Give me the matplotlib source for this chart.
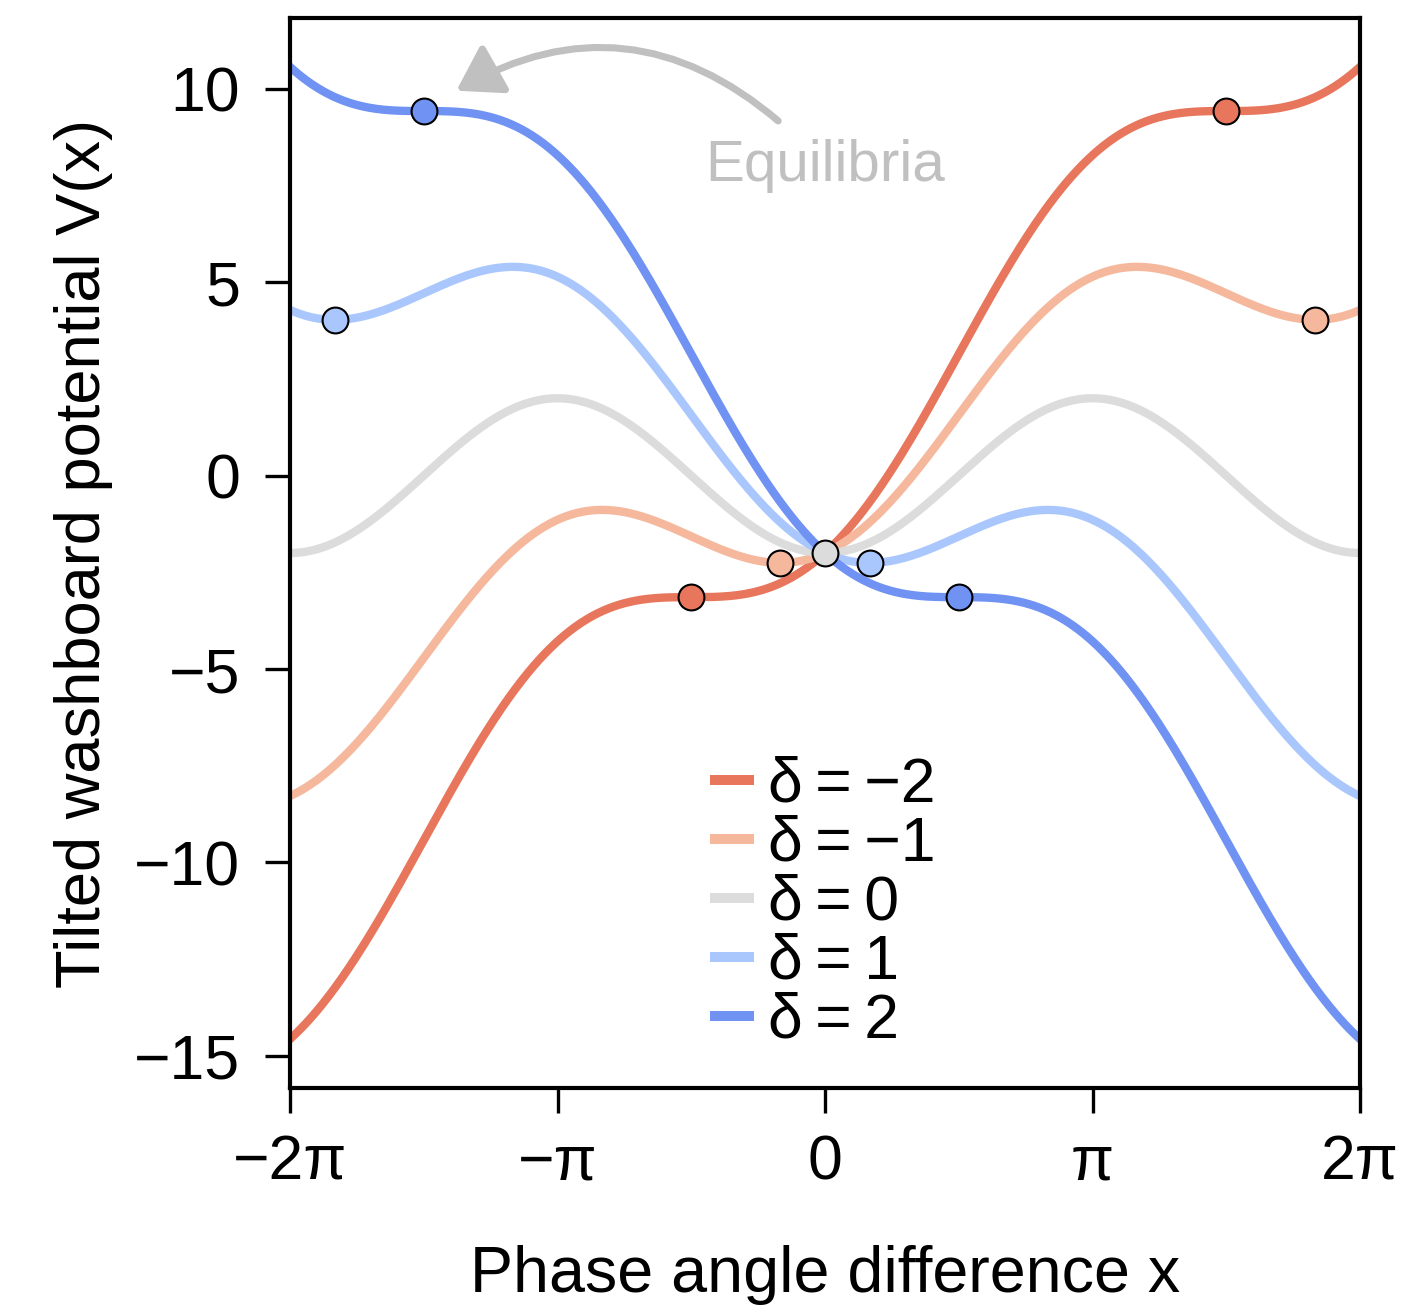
import numpy as np
import matplotlib
matplotlib.use("Agg")
import matplotlib.pyplot as plt

plt.rcParams['font.family'] = ['Liberation Sans', 'DejaVu Sans']
plt.rcParams['axes.unicode_minus'] = True

# ---- data ----
deltas = [-2, -1, 0, 1, 2]
labels = ["δ\u2009=\u2009−2", "δ\u2009=\u2009−1", "δ\u2009=\u20090", "δ\u2009=\u20091", "δ\u2009=\u20092"]
colors = ["#E8765C", "#F5B89D", "#DCDCDC", "#AAC7FD", "#6F92F3"]
amplitude = 2.0  # V(x) = -amplitude*cos(x) - delta*x
# stable equilibria x positions (per delta), in units of pi
eq_x_over_pi = [[-0.5, 1.5], [-1/6, 11/6], [0.0], [1/6, -11/6], [0.5, -1.5]]
xtick_vals = [-2, -1, 0, 1, 2]
xtick_labels = ["−2π", "−π", "0", "π", "2π"]
ytick_vals = [-15, -10, -5, 0, 5, 10]

fig = plt.figure(figsize=(1419/300, 1312/300), dpi=300)
ax = fig.add_axes([290/1419, 1-1088/1312, 1070/1419, 1070/1312])

x = np.linspace(-2*np.pi, 2*np.pi, 800)
for d, lab, c in zip(deltas, labels, colors):
    ax.plot(x, -amplitude*np.cos(x) - d*x, color=c, lw=2.0, label=lab, zorder=2)

for d, c, eqs in zip(deltas, colors, eq_x_over_pi):
    ex = np.array(eqs)*np.pi
    ax.plot(ex, -amplitude*np.cos(ex) - d*ex, 'o', ms=6.2, mfc=c, mec='black',
            mew=0.5, zorder=4, ls='none')

ax.set_xlim(-2*np.pi, 2*np.pi)
ax.set_ylim(-15.83, 11.83)
ax.set_xticks([v*np.pi for v in xtick_vals])
ax.set_xticklabels(xtick_labels)
ax.set_yticks(ytick_vals)
ax.set_yticklabels([("−" + str(-v)) if v < 0 else str(v) for v in ytick_vals])
ax.tick_params(labelsize=15, length=6, width=0.8)
ax.tick_params(axis='x', pad=5)
ax.tick_params(axis='y', pad=6)
for s in ax.spines.values():
    s.set_linewidth(1.0)

ax.set_xlabel("Phase angle difference x", fontsize=15.5, labelpad=12.5)
ax.set_ylabel("Tilted washboard potential V(x)", fontsize=15.2, labelpad=5)

leg = ax.legend(loc='lower left', bbox_to_anchor=(0.35, -0.012), frameon=False,
                fontsize=15, handlelength=0.55, handletextpad=0.3,
                labelspacing=0.0, borderaxespad=0.4)
for h in leg.get_lines():
    h.set_linewidth(2.4)

ax.text(0.0, 8.0, "Equilibria", color="#C0C0C0", fontsize=14,
        ha='center', va='center')
ax.annotate("", xy=(-4.33, 9.95), xytext=(-0.55, 9.17),
            arrowprops=dict(arrowstyle="-|>,head_length=0.55,head_width=0.35",
                            color="#C0C0C0", lw=1.7, shrinkA=0, shrinkB=0,
                            mutation_scale=16,
                            connectionstyle="arc3,rad=0.35"))

fig.savefig("out.png", dpi=300)
